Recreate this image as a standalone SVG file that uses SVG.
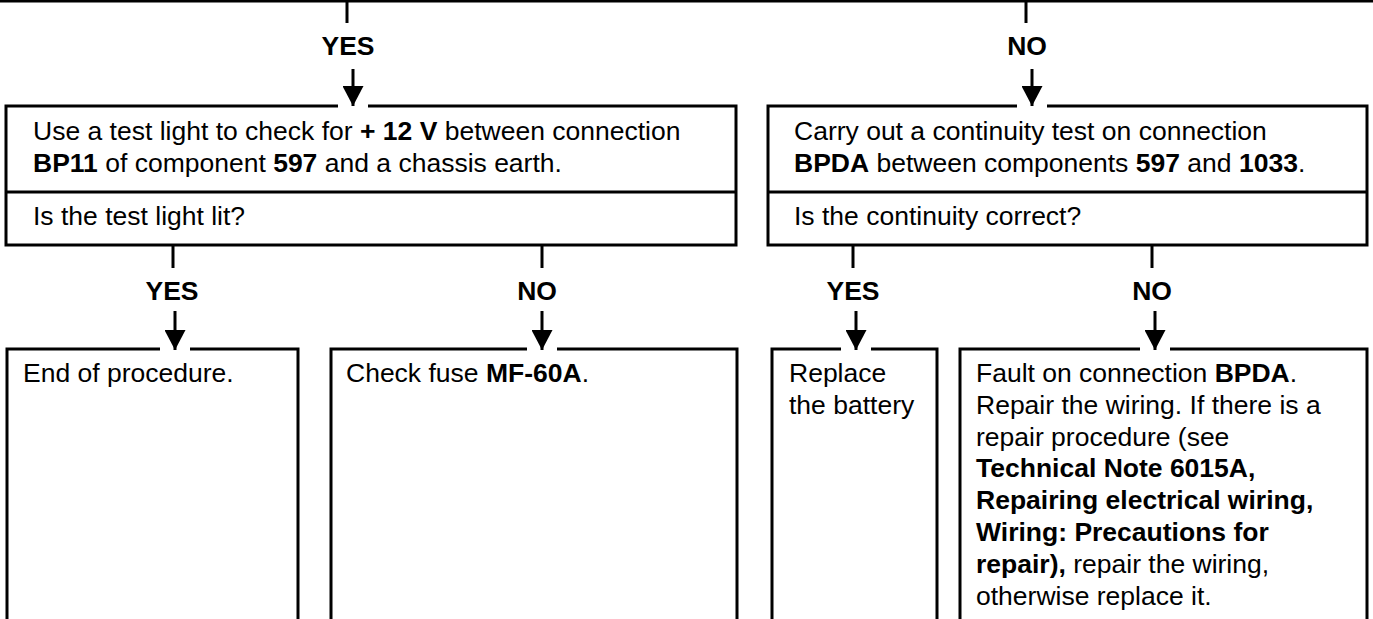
<svg xmlns="http://www.w3.org/2000/svg" width="1373" height="619" viewBox="0 0 1373 619">
<defs>
<style>
.bx{fill:none;stroke:#000;stroke-width:3}
.ln{stroke:#000;stroke-width:3;fill:none}
.gap{fill:#fff}
.t{font-family:"Liberation Sans",Arial,sans-serif;font-size:26.5px;fill:#000}
.b{font-weight:bold}
.lbl{font-family:"Liberation Sans",Arial,sans-serif;font-size:26.5px;font-weight:bold;fill:#000;text-anchor:middle}
</style>
<marker id="ah" markerUnits="userSpaceOnUse" markerWidth="20" markerHeight="21" viewBox="0 0 20 21" refX="20" refY="10.5" orient="auto">
<path d="M0,0 L20,10.5 L0,21 Z" fill="#000"/>
</marker>
</defs>
<rect width="1373" height="619" fill="#fff"/>

<g id="node-check-12v">
<rect class="bx" x="6" y="106" width="730" height="139"/>
<line class="ln" x1="6" y1="192" x2="736" y2="192"/>
<text class="t" x="33" y="140">Use a test light to check for <tspan class="b">+ 12 V</tspan> between connection</text>
<text class="t" x="33" y="171.5"><tspan class="b">BP11</tspan> of component <tspan class="b">597</tspan> and a chassis earth.</text>
<text class="t" x="33" y="225">Is the test light lit?</text>
</g>

<g id="node-continuity">
<rect class="bx" x="768" y="106" width="599" height="139"/>
<line class="ln" x1="768" y1="192" x2="1367" y2="192"/>
<text class="t" x="794" y="140">Carry out a continuity test on connection</text>
<text class="t" x="794" y="171.5"><tspan class="b">BPDA</tspan> between components <tspan class="b">597</tspan> and <tspan class="b">1033</tspan>.</text>
<text class="t" x="794" y="225">Is the continuity correct?</text>
</g>

<g id="node-end">
<path class="bx" d="M7,622 V349 H298 V622"/>
<text class="t" x="23" y="382">End of procedure.</text>
</g>

<g id="node-fuse">
<path class="bx" d="M331,622 V349 H737 V622"/>
<text class="t" x="346" y="382">Check fuse <tspan class="b">MF-60A</tspan>.</text>
</g>

<g id="node-battery">
<path class="bx" d="M772,622 V349 H937 V622"/>
<text class="t" x="789" y="382">Replace</text>
<text class="t" x="789" y="413.8">the battery</text>
</g>

<g id="node-fault">
<path class="bx" d="M960,622 V349 H1367 V622"/>
<text class="t" x="976" y="382">Fault on connection <tspan class="b">BPDA</tspan>.</text>
<text class="t" x="976" y="413.8">Repair the wiring. If there is a</text>
<text class="t" x="976" y="445.6">repair procedure (see</text>
<text class="t b" x="976" y="477.4">Technical Note 6015A,</text>
<text class="t b" x="976" y="509.2">Repairing electrical wiring,</text>
<text class="t b" x="976" y="541">Wiring: Precautions for</text>
<text class="t" x="976" y="572.8"><tspan class="b">repair),</tspan> repair the wiring,</text>
<text class="t" x="976" y="604.6">otherwise replace it.</text>
</g>

<g id="connectors">
<line class="ln" x1="0" y1="1" x2="1373" y2="1" stroke-width="2.5"/>
<line class="ln" x1="347" y1="0" x2="347" y2="23"/>
<line class="ln" x1="1026" y1="0" x2="1026" y2="23"/>
<text class="lbl" x="348" y="55">YES</text>
<text class="lbl" x="1027" y="55">NO</text>
<rect class="gap" x="338" y="103" width="30" height="6"/>
<rect class="gap" x="1017" y="103" width="30" height="6"/>
<line class="ln" x1="353" y1="69" x2="353" y2="106" marker-end="url(#ah)"/>
<line class="ln" x1="1032" y1="69" x2="1032" y2="106" marker-end="url(#ah)"/>

<line class="ln" x1="173" y1="245" x2="173" y2="268"/>
<line class="ln" x1="542" y1="245" x2="542" y2="268"/>
<line class="ln" x1="853" y1="245" x2="853" y2="268"/>
<line class="ln" x1="1152" y1="245" x2="1152" y2="268"/>
<text class="lbl" x="172" y="300">YES</text>
<text class="lbl" x="537" y="300">NO</text>
<text class="lbl" x="853" y="300">YES</text>
<text class="lbl" x="1152" y="300">NO</text>
<rect class="gap" x="160" y="346" width="30" height="6"/>
<rect class="gap" x="527" y="346" width="30" height="6"/>
<rect class="gap" x="841" y="346" width="30" height="6"/>
<rect class="gap" x="1140" y="346" width="30" height="6"/>
<line class="ln" x1="175" y1="311" x2="175" y2="350" marker-end="url(#ah)"/>
<line class="ln" x1="542" y1="311" x2="542" y2="350" marker-end="url(#ah)"/>
<line class="ln" x1="856" y1="311" x2="856" y2="350" marker-end="url(#ah)"/>
<line class="ln" x1="1155" y1="311" x2="1155" y2="350" marker-end="url(#ah)"/>
</g>
</svg>
